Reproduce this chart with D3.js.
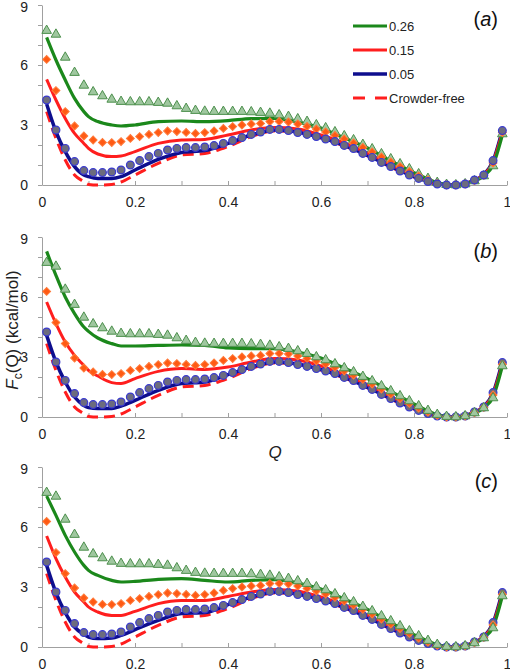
<!DOCTYPE html>
<html><head><meta charset="utf-8">
<script src="https://cdn.jsdelivr.net/npm/d3@7"></script>
<style>body{margin:0;background:#fff}svg{display:block}</style>
</head><body>
<svg id="c" width="510" height="671"></svg>
<script>
// ---------- DATA ----------
const seriesNames = ["0.26", "0.15", "0.05", "Crowder-free"];
const panelLabels = ["a", "b", "c"];
const yTicks = [0, 1, 2, 3, 4, 5, 6, 7, 8, 9];
const yTickLabels = [0, 3, 6, 9];
const xTicks = [0, 0.1, 0.2, 0.3, 0.4, 0.5, 0.6, 0.7, 0.8, 0.9, 1];
const xTickLabels = ["0", "0.2", "0.4", "0.6", "0.8", "1"];

// line sample positions (Q)
const qLine = [0.01,0.03,0.05,0.07,0.09,0.1,0.12,0.15,0.17,0.2,0.25,0.3,0.35,0.4,0.45,0.5,0.55,0.6,0.65,0.7,0.75,0.8,0.85,0.88,0.9,0.93,0.95,0.97,0.99];

const crowderFree = [3.67,2.33,1.25,0.5,0.17,0.03,0,0.03,0.15,0.5,1.08,1.5,1.58,1.92,2.42,2.7,2.62,2.35,1.95,1.45,0.9,0.4,0.05,0,0.02,0.25,0.5,1.18,2.7];

const greenA = [7.38,6.25,5.25,4.33,3.67,3.42,3.17,3.0,2.95,3.0,3.17,3.2,3.17,3.22,3.32,3.33,3.15,2.85,2.35,1.85,1.2,0.62,0.12,0,0.03,0.2,0.45,1.0,2.5];
const redA   = [5.28,4.25,3.33,2.58,2.08,1.83,1.55,1.42,1.45,1.67,2.08,2.25,2.28,2.5,2.75,2.87,2.8,2.5,2.1,1.6,1.02,0.48,0.08,0,0.02,0.25,0.5,1.15,2.65];
const blueA  = [4.05,2.67,1.67,0.92,0.5,0.42,0.33,0.33,0.42,0.75,1.28,1.63,1.72,2.08,2.5,2.75,2.65,2.37,1.98,1.48,0.92,0.42,0.06,0,0.02,0.25,0.5,1.2,2.75];

const greenB = [8.28,7.08,6.0,5.17,4.5,4.28,3.95,3.67,3.55,3.55,3.58,3.6,3.58,3.45,3.42,3.42,3.25,2.95,2.45,1.92,1.28,0.65,0.12,0,0.03,0.2,0.45,1.0,2.55];
const redB   = [5.75,4.67,3.75,3.08,2.58,2.33,2.05,1.72,1.67,1.92,2.28,2.42,2.38,2.5,2.75,2.92,2.85,2.55,2.12,1.62,1.03,0.48,0.08,0,0.02,0.25,0.5,1.15,2.65];
const blueB  = [4.08,2.75,1.75,1.0,0.58,0.47,0.42,0.42,0.55,0.83,1.33,1.67,1.75,2.12,2.5,2.75,2.65,2.37,1.98,1.48,0.92,0.42,0.06,0,0.02,0.25,0.5,1.2,2.78];

const greenC = [7.55,6.58,5.58,4.75,4.08,3.83,3.58,3.33,3.25,3.28,3.38,3.42,3.33,3.25,3.33,3.37,3.2,2.9,2.4,1.88,1.22,0.62,0.12,0,0.03,0.2,0.45,1.0,2.55];
const redC   = [5.55,4.42,3.5,2.75,2.25,2.0,1.75,1.58,1.58,1.78,2.17,2.33,2.33,2.53,2.75,2.88,2.8,2.5,2.1,1.6,1.02,0.48,0.08,0,0.02,0.25,0.5,1.15,2.65];
const blueC  = [4.08,2.72,1.72,1.0,0.62,0.5,0.42,0.45,0.58,0.87,1.33,1.67,1.72,2.12,2.5,2.75,2.65,2.37,1.98,1.48,0.92,0.42,0.06,0,0.02,0.25,0.5,1.2,2.78];

// marker positions (Q) and simulation values (same in all panels)
const qMarker = [0.01,0.03,0.05,0.07,0.09,0.11,0.13,0.15,0.17,0.19,0.21,0.23,0.25,0.27,0.29,0.31,0.33,0.35,0.37,0.39,0.41,0.43,0.45,0.47,0.49,0.51,0.53,0.55,0.57,0.59,0.61,0.63,0.65,0.67,0.69,0.71,0.73,0.75,0.77,0.79,0.81,0.83,0.85,0.87,0.89,0.91,0.93,0.95,0.97,0.99];
const triangles = [7.72,7.53,6.38,5.62,4.98,4.65,4.45,4.28,4.17,4.15,4.15,4.15,4.12,4.08,3.95,3.82,3.72,3.68,3.67,3.67,3.67,3.67,3.65,3.62,3.58,3.5,3.42,3.3,3.17,3.0,2.85,2.65,2.45,2.25,2.02,1.8,1.55,1.3,1.05,0.8,0.55,0.32,0.12,0.02,0,0.05,0.2,0.45,0.95,2.55];
const diamonds  = [6.28,4.72,3.67,2.95,2.45,2.25,2.13,2.12,2.17,2.33,2.42,2.53,2.62,2.7,2.67,2.63,2.58,2.62,2.7,2.83,2.92,3.0,3.05,3.08,3.17,3.18,3.15,3.05,2.93,2.8,2.65,2.48,2.3,2.1,1.88,1.65,1.4,1.15,0.92,0.68,0.45,0.25,0.08,0,0,0.05,0.22,0.48,1.1,2.62];
const circles   = [4.25,2.75,1.83,1.17,0.72,0.62,0.62,0.65,0.75,1.0,1.22,1.42,1.58,1.75,1.83,1.87,1.87,1.9,1.97,2.08,2.22,2.37,2.53,2.65,2.78,2.78,2.72,2.62,2.53,2.42,2.3,2.17,1.98,1.82,1.58,1.38,1.13,0.92,0.7,0.5,0.33,0.17,0.05,0,0,0.05,0.25,0.5,1.22,2.72];

// ---------- DRAW ----------
const FONT = "Arial, 'Liberation Sans', sans-serif";
const COL = {green:"#1b881b", red:"#ff1e1e", blue:"#0e0e8e", axis:"#a0a0a0", text:"#222"};
const svg = d3.select("#c");
const x = d3.scaleLinear().domain([0, 1]).range([42, 507]);

const panels = [
  {off:0,   green:greenA, red:redA, blue:blueA, order:["tri","dia","cir"]},
  {off:232, green:greenB, red:redB, blue:blueB, order:["cir","dia","tri"]},
  {off:462, green:greenC, red:redC, blue:blueC, order:["cir","dia","tri"]}
];

panels.forEach((p, i) => {
  const y = d3.scaleLinear().domain([0, 9]).range([185 + p.off, 5 + p.off]);
  const g = svg.append("g");

  // y axis
  const ya = g.append("g").attr("transform", `translate(${x(0)},0)`)
    .call(d3.axisLeft(y).tickValues(yTicks).tickSize(4).tickSizeOuter(0).tickPadding(10)
      .tickFormat(d => yTickLabels.includes(d) ? d : ""));
  // x axis
  const xa = g.append("g").attr("transform", `translate(0,${y(0)})`)
    .call(d3.axisBottom(x).tickValues(xTicks).tickSize(-4).tickSizeOuter(0).tickPadding(12)
      .tickFormat(d => { const k = Math.round(d * 10); return k % 2 === 0 ? xTickLabels[k / 2] : ""; }));
  [ya, xa].forEach(a => {
    a.select(".domain").attr("stroke", COL.axis).attr("stroke-width", 1);
    a.selectAll(".tick line").attr("stroke", COL.axis);
    a.selectAll(".tick text").attr("fill", COL.text).style("font-family", FONT).style("font-size", "14px");
  });
  ya.selectAll(".tick text").filter(d => d === 9).attr("dy", "0.45em");

  // lines
  const line = d3.line().x((d, j) => x(qLine[j])).y(d => y(d)).curve(d3.curveMonotoneX);
  g.append("path").attr("d", line(crowderFree)).attr("fill", "none")
    .attr("stroke", COL.red).attr("stroke-width", 3).attr("stroke-dasharray", "11,6");
  g.append("path").attr("d", line(p.blue)).attr("fill", "none").attr("stroke", COL.blue).attr("stroke-width", 3.5);
  g.append("path").attr("d", line(p.red)).attr("fill", "none").attr("stroke", COL.red).attr("stroke-width", 3);
  g.append("path").attr("d", line(p.green)).attr("fill", "none").attr("stroke", COL.green).attr("stroke-width", 3.2);

  // markers
  const draw = {
    tri: () => g.append("g").selectAll("path").data(triangles).join("path")
      .attr("d", d3.symbol(d3.symbolTriangle, 40)())
      .attr("transform", (d, j) => `translate(${x(qMarker[j])},${y(d)})`)
      .attr("fill", "#9fc79f").attr("stroke", "#4c8f4c").attr("stroke-width", 1),
    dia: () => g.append("g").selectAll("path").data(diamonds).join("path")
      .attr("d", d3.symbol(d3.symbolSquare, 31)())
      .attr("transform", (d, j) => `translate(${x(qMarker[j])},${y(d)}) rotate(45)`)
      .attr("fill", "#ff5a14").attr("stroke", "#ff7a3a").attr("stroke-width", 1),
    cir: () => g.append("g").selectAll("circle").data(circles).join("circle")
      .attr("cx", (d, j) => x(qMarker[j])).attr("cy", d => y(d)).attr("r", 3.9)
      .attr("fill", "#6c6c7e").attr("stroke", "#3a3ad0").attr("stroke-width", 1.2)
  };
  p.order.forEach(k => draw[k]());

  // panel label
  const t = g.append("text").attr("x", 498).attr("y", 26 + p.off).attr("text-anchor", "end")
    .style("font-family", FONT).style("font-size", "20px").attr("fill", "#111");
  t.append("tspan").text("(");
  t.append("tspan").style("font-style", "italic").text(panelLabels[i]);
  t.append("tspan").text(")");
});

// legend (panel a)
const lg = svg.append("g");
const legendStyles = [
  {c: COL.green, w: 3.2, dash: null},
  {c: COL.red, w: 3, dash: null},
  {c: COL.blue, w: 3.5, dash: null},
  {c: COL.red, w: 3, dash: "12,10"}
];
seriesNames.forEach((name, i) => {
  const yy = 26 + i * 24;
  const s = legendStyles[i];
  lg.append("line").attr("x1", 353).attr("x2", 387).attr("y1", yy).attr("y2", yy)
    .attr("stroke", s.c).attr("stroke-width", s.w).attr("stroke-dasharray", s.dash);
  lg.append("text").attr("x", 389).attr("y", yy + 4.5).text(name)
    .style("font-family", FONT).style("font-size", "13px").attr("fill", COL.text);
});

// axis titles
svg.append("text").attr("x", 275).attr("y", 458).attr("text-anchor", "middle")
  .style("font-family", FONT).style("font-size", "17px").style("font-style", "italic").attr("fill", COL.text).text("Q");

const yl = svg.append("text").attr("transform", "translate(18,330) rotate(-90)").attr("text-anchor", "middle")
  .style("font-family", FONT).style("font-size", "17px").attr("fill", COL.text);
yl.append("tspan").style("font-style", "italic").text("F");
yl.append("tspan").attr("dy", 4).style("font-size", "12px").text("c");
yl.append("tspan").attr("dy", -4).text("(Q) (kcal/mol)");
</script>
</body></html>
